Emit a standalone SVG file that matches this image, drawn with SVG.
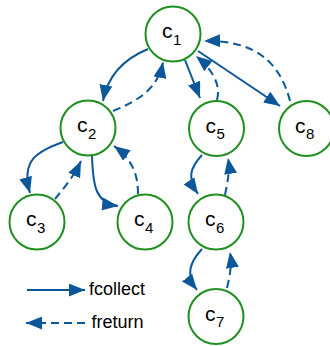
<svg xmlns="http://www.w3.org/2000/svg" width="330" height="346" viewBox="0 0 330 346">
  <style>
    .node circle { fill: #ffffff; stroke: #1f8f1f; stroke-width: 2; }
    .lbl { font-family: "Liberation Sans", Arial, sans-serif; font-size: 21px; fill: #000000; }
    .sub { font-family: "Liberation Sans", Arial, sans-serif; font-size: 15px; fill: #000000; }
    .edge { fill: none; stroke: #0b5799; stroke-width: 2; }
    .collect { marker-end: url(#head); }
    .return { stroke-dasharray: 8 5; marker-end: url(#head); }
    .legend { font-family: "Liberation Sans", Arial, sans-serif; font-size: 18px; fill: #000000; }
  </style>
  <defs>
    <marker id="head" markerUnits="userSpaceOnUse" viewBox="0 0 16 13" markerWidth="16" markerHeight="13" refX="16" refY="6.5" orient="auto">
      <path d="M0,0 L16,6.5 L0,13 z" fill="#0b5799"/>
    </marker>
  </defs>

  <!-- connectors -->
  <g id="edges">
    <path class="edge collect" d="M148,49 C126,58 108,74 103,101"/>
    <path class="edge return" d="M113,111 C140,100 158,88 163,62"/>
    <path class="edge collect" d="M185,60 L200,98"/>
    <path class="edge return" d="M217,100 C221,85 213,70 196,56"/>
    <path class="edge collect" d="M198,51 L280,106"/>
    <path class="edge return" d="M290,101 C280,62 255,40 204,41"/>
    <path class="edge collect" d="M63,142 C40,151 20,158 30,193"/>
    <path class="edge return" d="M55,199 C64,188 74,176 81,161"/>
    <path class="edge collect" d="M92,156 C93,185 95,203 118,206"/>
    <path class="edge return" d="M138,194 C138,175 133,160 114,146"/>
    <path class="edge collect" d="M202,155 C190,168 187,178 198,194"/>
    <path class="edge return" d="M225,195 C228,180 230,170 228,158"/>
    <path class="edge collect" d="M202,249 C190,262 185,275 197,290"/>
    <path class="edge return" d="M227,288 C230,275 232,265 230,252"/>
  </g>

  <!-- nodes -->
  <g id="c1" class="node">
    <circle cx="173" cy="34" r="27.5"/>
    <text class="lbl" x="162" y="38">c</text><text class="sub" x="173" y="44.5">1</text>
  </g>
  <g id="c2" class="node">
    <circle cx="88" cy="128" r="27.5"/>
    <text class="lbl" x="77" y="132">c</text><text class="sub" x="88" y="138.5">2</text>
  </g>
  <g id="c3" class="node">
    <circle cx="37" cy="222" r="27.5"/>
    <text class="lbl" x="26" y="226">c</text><text class="sub" x="37" y="232.5">3</text>
  </g>
  <g id="c4" class="node">
    <circle cx="145" cy="222" r="27.5"/>
    <text class="lbl" x="134" y="226">c</text><text class="sub" x="145" y="232.5">4</text>
  </g>
  <g id="c5" class="node">
    <circle cx="216.5" cy="128.5" r="27.5"/>
    <text class="lbl" x="205.5" y="132.5">c</text><text class="sub" x="216.5" y="139">5</text>
  </g>
  <g id="c6" class="node">
    <circle cx="216" cy="222" r="27.5"/>
    <text class="lbl" x="205" y="226">c</text><text class="sub" x="216" y="232.5">6</text>
  </g>
  <g id="c7" class="node">
    <circle cx="216" cy="316.5" r="27.5"/>
    <text class="lbl" x="205" y="320.5">c</text><text class="sub" x="216" y="327">7</text>
  </g>
  <g id="c8" class="node">
    <circle cx="306.5" cy="128.5" r="27.5"/>
    <text class="lbl" x="295" y="132.5">c</text><text class="sub" x="306" y="139">8</text>
  </g>

  <!-- legend -->
  <g id="legend">
    <path class="edge collect" d="M27,290 L85,290"/>
    <text class="legend" x="89" y="295">fcollect</text>
    <path class="edge return" d="M85,323 L26,323"/>
    <text class="legend" x="91.5" y="328">freturn</text>
  </g>
</svg>
